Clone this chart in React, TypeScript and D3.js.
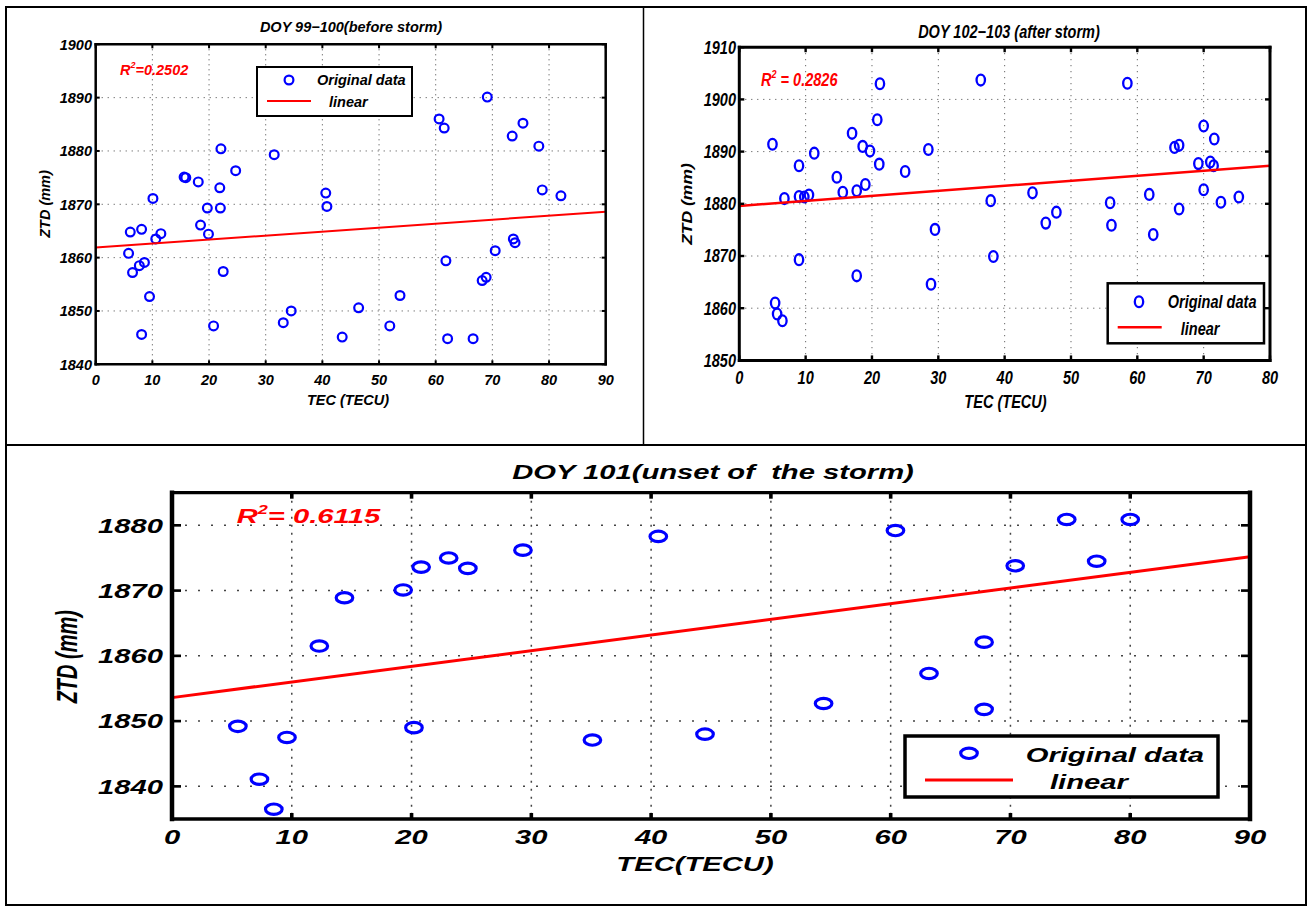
import React from 'react';
import * as d3 from 'd3';

// DOY 99-100 (before storm)
const tecBefore = [6.1, 8.1, 5.8, 6.5, 7.7, 8.6, 9.5, 8.1, 10.1, 10.6, 11.5, 15.6, 15.9, 18.1, 18.5, 19.7, 19.9, 20.8, 22.1, 21.9, 22.0, 22.5, 24.7, 31.5, 33.1, 34.5, 40.6, 40.8, 43.5, 46.4, 51.9, 53.7, 60.6, 61.5, 61.8, 62.1, 66.6, 68.2, 68.9, 69.1, 70.5, 73.5, 73.7, 74.0, 75.4, 78.2, 78.8, 82.1];
const ztdBefore = [1864.8, 1865.3, 1860.8, 1857.2, 1858.5, 1859.1, 1852.7, 1845.6, 1871.1, 1863.5, 1864.5, 1875.1, 1875.0, 1874.2, 1866.1, 1869.3, 1864.4, 1847.2, 1880.4, 1873.1, 1869.3, 1857.4, 1876.3, 1879.3, 1847.8, 1850.0, 1872.1, 1869.6, 1845.1, 1850.6, 1847.2, 1852.9, 1886.0, 1884.3, 1859.4, 1844.8, 1844.8, 1855.7, 1856.3, 1890.1, 1861.3, 1882.8, 1863.5, 1862.8, 1885.2, 1880.9, 1872.7, 1871.6];
const fitBefore = [1861.9, 1868.6];

// DOY 102-103 (after storm)
const tecAfter = [5.0, 5.4, 5.7, 6.5, 6.8, 9.0, 9.0, 9.8, 10.5, 9.0, 11.3, 14.7, 15.6, 17.0, 17.7, 17.7, 18.6, 19.0, 19.7, 20.8, 21.1, 21.2, 25.0, 28.5, 28.9, 29.5, 36.4, 37.9, 38.3, 44.2, 46.2, 47.8, 55.9, 56.1, 58.5, 61.8, 62.4, 65.6, 66.3, 66.3, 69.2, 70.0, 70.0, 71.0, 71.5, 71.6, 72.6, 75.3];
const ztdAfter = [1891.4, 1861.0, 1858.9, 1857.6, 1881.0, 1887.3, 1881.4, 1881.3, 1881.7, 1869.3, 1889.7, 1885.1, 1882.2, 1893.5, 1882.5, 1866.2, 1891.0, 1883.7, 1890.1, 1896.1, 1887.6, 1903.0, 1886.2, 1890.4, 1864.6, 1875.1, 1903.7, 1880.6, 1869.9, 1882.1, 1876.3, 1878.4, 1880.2, 1875.9, 1903.1, 1881.8, 1874.1, 1890.8, 1891.2, 1879.0, 1887.7, 1894.9, 1882.7, 1888.0, 1887.3, 1892.4, 1880.3, 1881.3];
const fitAfter = [1879.6, 1887.3];

// DOY 101 (onset)
const tecOnset = [5.5, 7.3, 8.5, 9.6, 12.3, 14.4, 19.3, 20.8, 20.2, 23.1, 24.7, 29.3, 35.1, 40.6, 44.5, 54.4, 60.4, 63.2, 67.8, 67.8, 70.4, 74.7, 77.2, 80.0];
const ztdOnset = [1849.2, 1841.1, 1836.5, 1847.5, 1861.5, 1868.9, 1870.1, 1873.6, 1849.0, 1875.0, 1873.4, 1876.2, 1847.1, 1878.3, 1848.0, 1852.7, 1879.2, 1857.3, 1862.1, 1851.8, 1873.8, 1880.9, 1874.5, 1880.9];
const fitOnset = [1853.6, 1875.2];

const ticksX90 = [0, 10, 20, 30, 40, 50, 60, 70, 80, 90];
const ticksX80 = [0, 10, 20, 30, 40, 50, 60, 70, 80];
const ticksYBefore = [1840, 1850, 1860, 1870, 1880, 1890, 1900];
const ticksYAfter = [1850, 1860, 1870, 1880, 1890, 1900, 1910];
const ticksYOnset = [1840, 1850, 1860, 1870, 1880];

const FONT = "'Liberation Sans', Arial, Helvetica, sans-serif";

const Txt = ({ x, y, sx = 1, size, anchor = 'start', fill = '#000', rotate = false, children }: any) => (
  <text
    transform={`translate(${x},${y}) scale(${sx},1)${rotate ? ' rotate(-90)' : ''}`}
    fontSize={size}
    textAnchor={anchor}
    fill={fill}
    fontFamily={FONT}
    fontWeight="bold"
    fontStyle="italic"
    style={{ whiteSpace: 'pre' }}
  >
    {children}
  </text>
);

const panels = [
  {
    xs: tecBefore, ys: ztdBefore, fit: fitBefore,
    left: 95.7, right: 605.7, top: 44.3, bottom: 364.3,
    xDomain: [0, 90], yDomain: [1840, 1900], xTicks: ticksX90, yTicks: ticksYBefore,
    size: 14.5, sx: 1,
    title: 'DOY 99\u2212100(before storm)', titleX: 351, titleY: 32,
    xLabel: 'TEC (TECU)', xLabelX: 348, xLabelY: 405,
    yLabel: 'ZTD (mm)', yLabelX: 50, yLabelY: 204,
    yTickEnd: 92, xTickBase: 385,
    r2: '=0.2502', r2X: 120, r2Y: 75,
    leg: { x0: 257, y0: 67, x1: 412, y1: 116, mx: 289, my: 80, l0: 267, l1: 311, ly: 101, t1x: 317, t1y: 85, t2x: 329, t2y: 107, sw: 2 },
    rx: 4.4, ry: 4.4, msw: 2.2, fsw: 2,
    frameV: 2.5, frameH: 2.5, tickV: 4, tickH: 4,
    dashH: '1,5', dashV: '1,4', gridW: 1,
  },
  {
    xs: tecAfter, ys: ztdAfter, fit: fitAfter,
    left: 739.3, right: 1270, top: 47.2, bottom: 360.4,
    xDomain: [0, 80], yDomain: [1850, 1910], xTicks: ticksX80, yTicks: ticksYAfter,
    size: 17.5, sx: 0.83,
    title: 'DOY 102\u2212103 (after storm)', titleX: 1009, titleY: 37.5,
    xLabel: 'TEC (TECU)', xLabelX: 1005.5, xLabelY: 408,
    yLabel: 'ZTD (mm)', yLabelX: 692, yLabelY: 204,
    yTickEnd: 736, xTickBase: 384,
    r2: ' = 0.2826', r2X: 761, r2Y: 86,
    leg: { x0: 1107.7, y0: 283.3, x1: 1264, y1: 343.3, mx: 1139, my: 301.7, l0: 1117.7, l1: 1161.7, ly: 327.3, t1x: 1167.7, t1y: 308, t2x: 1180.7, t2y: 334.5, sw: 2.5 },
    rx: 4.2, ry: 5.4, msw: 2.3, fsw: 2.5,
    frameV: 3, frameH: 3, tickV: 5, tickH: 5,
    dashH: '1,5', dashV: '1,5', gridW: 1,
  },
  {
    xs: tecOnset, ys: ztdOnset, fit: fitOnset,
    left: 172, right: 1250, top: 492.7, bottom: 819,
    xDomain: [0, 90], yDomain: [1835, 1885], xTicks: ticksX90, yTicks: ticksYOnset,
    size: 20, sx: 1.46,
    title: 'DOY 101(unset of  the storm)', titleX: 713, titleY: 479,
    xLabel: 'TEC(TECU)', xLabelX: 695, xLabelY: 871,
    yLabel: 'ZTD (mm)', yLabelX: 77, yLabelY: 656.7,
    yTickEnd: 163, xTickBase: 844,
    r2: '= 0.6115', r2X: 236.7, r2Y: 523,
    leg: { x0: 905, y0: 736, x1: 1218, y1: 797, mx: 969, my: 753.3, l0: 925, l1: 1013, ly: 780, t1x: 1025.7, t1y: 762, t2x: 1050, t2y: 789, sw: 3.5 },
    rx: 8.3, ry: 5.2, msw: 3.2, fsw: 3,
    frameV: 4.5, frameH: 3.3, tickV: 6, tickH: 9,
    dashH: '2,11', dashV: '2,6', gridW: 1.5,
  },
];

const Panel = ({ p }: any) => {
  const x = d3.scaleLinear().domain(p.xDomain).range([p.left, p.right]);
  const y = d3.scaleLinear().domain(p.yDomain).range([p.bottom, p.top]);
  const fitLine = d3.line<number>()
    .x((_, i) => x(p.xDomain[i]))
    .y(d => y(d));
  const innerX = p.xTicks.filter((t: number) => t > p.xDomain[0] && t < p.xDomain[1]);
  const innerY = p.yTicks.filter((t: number) => t > p.yDomain[0] && t < p.yDomain[1]);
  const capShift = p.size * 0.36;
  const L = p.leg;
  return (
    <g>
      {/* grid */}
      {innerX.map((t: number) => (
        <line key={'gx' + t} x1={x(t)} x2={x(t)} y1={p.top} y2={p.bottom}
          stroke="#444" strokeWidth={p.gridW} strokeDasharray={p.dashV} />
      ))}
      {innerY.map((t: number) => (
        <line key={'gy' + t} x1={p.left} x2={p.right} y1={y(t)} y2={y(t)}
          stroke="#444" strokeWidth={p.gridW} strokeDasharray={p.dashH} />
      ))}
      {/* data */}
      {p.xs.map((v: number, i: number) => (
        <ellipse key={'pt' + i} cx={x(v)} cy={y(p.ys[i])} rx={p.rx} ry={p.ry}
          fill="none" stroke="#0000ff" strokeWidth={p.msw} />
      ))}
      <path d={fitLine(p.fit) as string} fill="none" stroke="#ff0000" strokeWidth={p.fsw} />
      {/* frame */}
      <line x1={p.left} x2={p.right} y1={p.top} y2={p.top} stroke="#000" strokeWidth={p.frameH} strokeLinecap="square" />
      <line x1={p.left} x2={p.right} y1={p.bottom} y2={p.bottom} stroke="#000" strokeWidth={p.frameH} strokeLinecap="square" />
      <line x1={p.left} x2={p.left} y1={p.top} y2={p.bottom} stroke="#000" strokeWidth={p.frameV} strokeLinecap="square" />
      <line x1={p.right} x2={p.right} y1={p.top} y2={p.bottom} stroke="#000" strokeWidth={p.frameV} strokeLinecap="square" />
      {/* ticks */}
      {p.xTicks.map((t: number) => (
        <g key={'tx' + t}>
          <line x1={x(t)} x2={x(t)} y1={p.bottom} y2={p.bottom - p.tickV} stroke="#000" strokeWidth={p.frameV * 0.8} />
          <line x1={x(t)} x2={x(t)} y1={p.top} y2={p.top + p.tickV} stroke="#000" strokeWidth={p.frameV * 0.8} />
          <Txt x={x(t)} y={p.xTickBase} sx={p.sx} size={p.size} anchor="middle">{t}</Txt>
        </g>
      ))}
      {p.yTicks.map((t: number) => (
        <g key={'ty' + t}>
          <line x1={p.left} x2={p.left + p.tickH} y1={y(t)} y2={y(t)} stroke="#000" strokeWidth={p.frameH * 0.8} />
          <line x1={p.right} x2={p.right - p.tickH} y1={y(t)} y2={y(t)} stroke="#000" strokeWidth={p.frameH * 0.8} />
          <Txt x={p.yTickEnd} y={y(t) + capShift} sx={p.sx} size={p.size} anchor="end">{t}</Txt>
        </g>
      ))}
      {/* labels */}
      <Txt x={p.titleX} y={p.titleY} sx={p.sx} size={p.size} anchor="middle">{p.title}</Txt>
      <Txt x={p.xLabelX} y={p.xLabelY} sx={p.sx} size={p.size} anchor="middle">{p.xLabel}</Txt>
      <Txt x={p.yLabelX} y={p.yLabelY} sx={p.sx} size={p.size} anchor="middle" rotate>{p.yLabel}</Txt>
      <Txt x={p.r2X} y={p.r2Y} sx={p.sx} size={p.size} fill="#ff0000">
        R<tspan dy={-p.size * 0.45} fontSize={p.size * 0.62}>2</tspan><tspan dy={p.size * 0.45}>{p.r2}</tspan>
      </Txt>
      {/* legend */}
      <rect x={L.x0} y={L.y0} width={L.x1 - L.x0} height={L.y1 - L.y0} fill="#fff" stroke="#000" strokeWidth={L.sw} />
      <ellipse cx={L.mx} cy={L.my} rx={p.rx} ry={p.ry} fill="none" stroke="#0000ff" strokeWidth={p.msw} />
      <line x1={L.l0} x2={L.l1} y1={L.ly} y2={L.ly} stroke="#ff0000" strokeWidth={p.fsw} />
      <Txt x={L.t1x} y={L.t1y} sx={p.sx} size={p.size}>Original data</Txt>
      <Txt x={L.t2x} y={L.t2y} sx={p.sx} size={p.size}>linear</Txt>
    </g>
  );
};

const App = () => (
  <svg width={1307} height={906} style={{ position: 'absolute', left: 0, top: 0, background: '#fff' }}>
    <rect x={6} y={7} width={1300} height={898} fill="#fff" stroke="#000" strokeWidth={2} />
    <line x1={6} x2={1306} y1={445} y2={445} stroke="#000" strokeWidth={2} />
    <line x1={643.5} x2={643.5} y1={7} y2={445} stroke="#000" strokeWidth={1.5} />
    {panels.map((p, i) => <Panel key={i} p={p} />)}
  </svg>
);

export default App;
